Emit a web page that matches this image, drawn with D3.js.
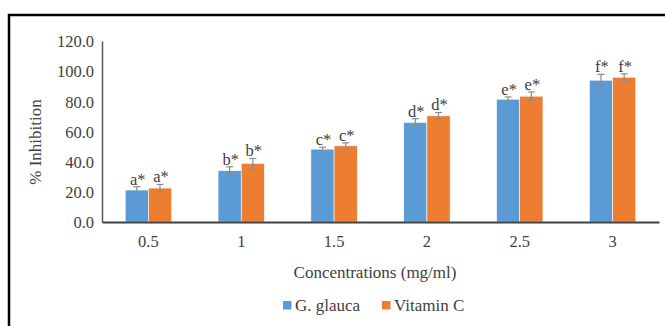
<!DOCTYPE html>
<html><head><meta charset="utf-8">
<script src="https://cdn.jsdelivr.net/npm/d3@7/dist/d3.min.js"></script>
<style>body{margin:0;background:#fff}svg{display:block}text{font-family:"Liberation Serif","Times New Roman",serif;fill:#404040}</style>
</head><body><svg id="c" width="665" height="326"></svg>
<script>
const categories = ["0.5","1","1.5","2","2.5","3"];
const seriesNames = ["G. glauca","Vitamin C"];
const glauca = [21.2, 34.0, 48.3, 66.0, 81.4, 94.0];
const vitC = [22.5, 38.9, 50.5, 70.4, 83.4, 96.0];
const glaucaErr = [2.2, 2.6, 1.3, 2.5, 1.5, 3.9];
const vitCErr = [2.4, 3.2, 2.0, 2.2, 2.8, 2.2];
const letters = ["a*","b*","c*","d*","e*","f*"];
const yTicks = [0,20,40,60,80,100,120];
const colors = ["#5B9BD5","#ED7D31"];

const svg = d3.select("#c");
// outer frame
svg.append("rect").attr("x",9).attr("y",15).attr("width",700).attr("height",400)
  .attr("fill","none").attr("stroke","#000").attr("stroke-width",2.5);

const x = d3.scaleBand().domain(categories).range([102,659]).paddingInner(0.5).paddingOuter(0.25);
const xs = d3.scaleBand().domain(seriesNames).range([0,x.bandwidth()]);
const y = d3.scaleLinear().domain([0,120]).range([222,41]);

const series = [glauca, vitC];
const errs = [glaucaErr, vitCErr];

// bars
series.forEach((vals,si)=>{
  const g = svg.append("g");
  g.selectAll("rect").data(vals).join("rect")
    .attr("x",(d,i)=>x(categories[i])+xs(seriesNames[si]))
    .attr("y",d=>y(d))
    .attr("width",xs.bandwidth())
    .attr("height",d=>y(0)-y(d))
    .attr("fill",colors[si]).attr("stroke","#fff").attr("stroke-width",0.6);
  // error bars
  vals.forEach((d,i)=>{
    const cx = x(categories[i])+xs(seriesNames[si])+xs.bandwidth()/2;
    const e = errs[si][i];
    const eg = svg.append("g").attr("stroke","#8c8c8c").attr("stroke-width",1.2);
    eg.append("line").attr("x1",cx).attr("x2",cx).attr("y1",y(d+e)).attr("y2",y(d-e));
    eg.append("line").attr("x1",cx-3.5).attr("x2",cx+3.5).attr("y1",y(d+e)).attr("y2",y(d+e));
    eg.append("line").attr("x1",cx-3.5).attr("x2",cx+3.5).attr("y1",y(d-e)).attr("y2",y(d-e));
    svg.append("text").attr("x",cx+1).attr("y",y(d+e)-2).attr("text-anchor","middle")
      .style("font-size","16.5px").text(letters[i]);
  });
});

// y axis
const ya = svg.append("g").attr("transform","translate(102,0)")
  .call(d3.axisLeft(y).tickValues(yTicks).tickFormat(d3.format(".1f")).tickSize(0).tickPadding(8));
ya.select(".domain").attr("stroke","#595959").attr("stroke-width",1.5);
ya.selectAll("text").style("font-size","16.5px").style("font-family",'"Liberation Serif","Times New Roman",serif').attr("fill","#404040").attr("dy","0.35em");

// x axis
const xa = svg.append("g").attr("transform","translate(0,222)")
  .call(d3.axisBottom(x).tickSize(0).tickPadding(13));
xa.select(".domain").attr("stroke","#404040").attr("stroke-width",1.8);
xa.selectAll("text").style("font-size","16.5px").style("font-family",'"Liberation Serif","Times New Roman",serif').attr("fill","#404040");

// axis titles
svg.append("text").attr("x",375).attr("y",278).attr("text-anchor","middle").style("font-size","17px").text("Concentrations (mg/ml)");
svg.append("text").attr("transform","translate(41,142) rotate(-90)").attr("text-anchor","middle").style("font-size","17px").text("% Inhibition");

// legend
const legX = [283, 382];
seriesNames.forEach((n,i)=>{
  svg.append("rect").attr("x",legX[i]).attr("y",301).attr("width",8.5).attr("height",8.5).attr("fill",colors[i]);
  svg.append("text").attr("x",legX[i]+12).attr("y",311).style("font-size","17px").text(n);
});
</script></body></html>
